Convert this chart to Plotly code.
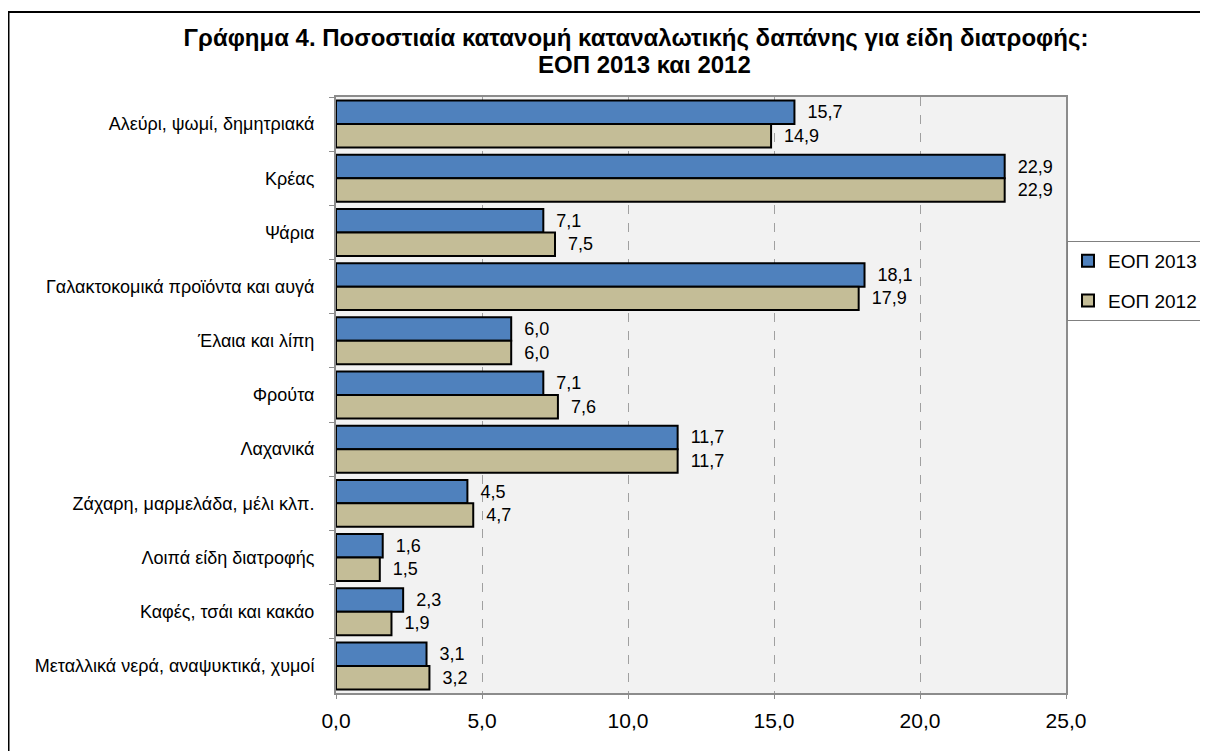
import plotly.graph_objects as go

categories = ["Αλεύρι, ψωμί, δημητριακά", "Κρέας", "Ψάρια", "Γαλακτοκομικά προϊόντα και αυγά",
              "Έλαια και λίπη", "Φρούτα", "Λαχανικά", "Ζάχαρη, μαρμελάδα, μέλι κλπ.",
              "Λοιπά είδη διατροφής", "Καφές, τσάι και κακάο", "Μεταλλικά νερά, αναψυκτικά, χυμοί"]
eop2013 = [15.7, 22.9, 7.1, 18.1, 6.0, 7.1, 11.7, 4.5, 1.6, 2.3, 3.1]
eop2012 = [14.9, 22.9, 7.5, 17.9, 6.0, 7.6, 11.7, 4.7, 1.5, 1.9, 3.2]
x_ticks = [0, 5, 10, 15, 20, 25]

# page body has an 8px margin -> work in figure coords (window - 8)
W, H = 1200, 743
L, R, T, B = 328, 1058, 89, 685
pw, ph = R - L, B - T
FONT = "Liberation Sans, Arial, sans-serif"

fig = go.Figure()
fig.add_trace(go.Bar(y=categories, x=eop2013, name="ΕΟΠ 2013", orientation="h", legendgroup="a",
                     marker=dict(color="#4f81bd", line=dict(color="black", width=2)),
                     texttemplate="  %{x:.1f}", textposition="outside", cliponaxis=False,
                     textfont=dict(size=18, color="black")))
fig.add_trace(go.Bar(y=categories, x=eop2012, name="ΕΟΠ 2012", orientation="h", legendgroup="b",
                     marker=dict(color="#c4bd97", line=dict(color="black", width=2)),
                     texttemplate="  %{x:.1f}", textposition="outside", cliponaxis=False,
                     textfont=dict(size=18, color="black")))

fig.update_layout(
    width=W, height=H,
    margin=dict(l=L, r=W - R, t=T, b=H - B, autoexpand=False),
    paper_bgcolor="white", plot_bgcolor="#f2f2f2",
    separators=",.",
    barmode="group", bargap=0.133, bargroupgap=0.0,
    font=dict(family=FONT, color="black"),
    title=dict(text="<b>Γράφημα 4. Ποσοστιαία κατανομή καταναλωτικής δαπάνης για είδη διατροφής:</b>",
               x=628 / W, xanchor="center", xref="container",
               y=1 - 21 / H, yanchor="top", yref="container", font=dict(size=24)),
    legend=dict(x=(1059 - L) / pw, y=(B - 233) / ph, xanchor="left", yanchor="top",
                bgcolor="white", bordercolor="#808080", borderwidth=1,
                font=dict(size=19), traceorder="grouped", tracegroupgap=12),
    xaxis=dict(range=[0, 25], tickvals=x_ticks, tickformat=".1f", showgrid=True,
               gridcolor="#a0a0a0", griddash="dash", gridwidth=1,
               showline=True, linecolor="#8c8c8c", linewidth=2, mirror=True,
               ticks="outside", ticklen=4, tickcolor="#8c8c8c",
               ticklabelstandoff=4, tickfont=dict(size=21), zeroline=False),
    yaxis=dict(autorange="reversed", showline=True, linecolor="#8c8c8c", linewidth=2, mirror=True,
               ticks="outside", ticklen=5, tickcolor="#8c8c8c", tickson="boundaries",
               ticklabelstandoff=16, tickfont=dict(size=18), showgrid=False),
)

# second title line
fig.add_annotation(text="<b>ΕΟΠ 2013 και 2012</b>", xref="paper", yref="paper",
                   x=(636 - L) / pw, y=(B - 41) / ph, xanchor="center", yanchor="top",
                   showarrow=False, font=dict(size=24, family=FONT, color="black"))

# outer frame
fig.add_shape(type="rect", xref="paper", yref="paper",
              x0=(0.5 - L) / pw, x1=(1220 - L) / pw,
              y0=(B - 760) / ph, y1=(B - 4) / ph,
              line=dict(color="black", width=2), fillcolor="rgba(0,0,0,0)", layer="below")

fig.write_html("out.html")
